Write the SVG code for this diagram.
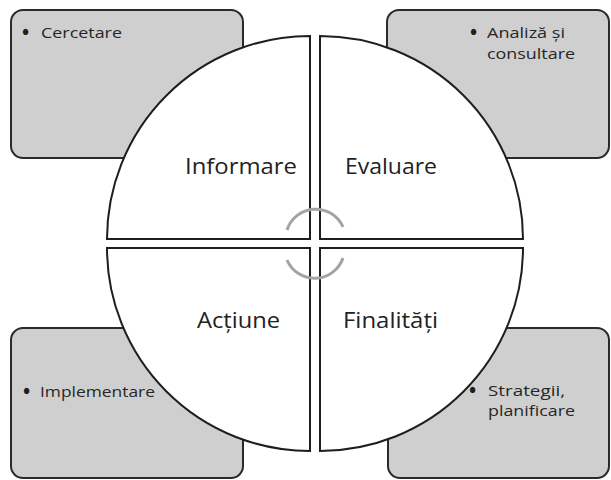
<svg xmlns="http://www.w3.org/2000/svg" width="611" height="480" viewBox="0 0 611 480">
<style>
.box{fill:#cfcfcf;stroke:#2a2a2a;stroke-width:2}
.quad{fill:#ffffff;stroke:#1e1e1e;stroke-width:2;stroke-linejoin:miter}
.sm{font-family:"Open Sans","Liberation Sans",sans-serif;font-size:15px;fill:#262626}
.bul{font-family:"Open Sans","Liberation Sans",sans-serif;font-size:19px;font-weight:bold;fill:#1e1e1e}
.big{font-family:"Open Sans","Liberation Sans",sans-serif;font-size:21px;fill:#222222}
.arc{fill:none;stroke:#a3a3a3;stroke-width:3;stroke-linecap:butt}
</style>
<rect width="611" height="480" fill="#ffffff"/>
<g id="box-cercetare">
<rect class="box" x="11" y="10" width="232" height="148" rx="12"/>
</g>
<g id="box-analiza">
<rect class="box" x="387" y="10" width="222" height="148" rx="12"/>
</g>
<g id="box-implementare">
<rect class="box" x="11" y="328" width="232" height="150" rx="12"/>
</g>
<g id="box-strategii">
<rect class="box" x="388" y="328" width="221" height="150" rx="12"/>
</g>
<g id="q-informare">
<path class="quad" d="M310,239 L107,239 A203,203 0 0 1 310,36 Z"/>
<text class="big" x="185" y="174" textLength="112" lengthAdjust="spacingAndGlyphs">Informare</text>
</g>
<g id="q-evaluare">
<path class="quad" d="M320,239 L320,36 A203,203 0 0 1 523,239 Z"/>
<text class="big" x="345" y="174" textLength="92" lengthAdjust="spacingAndGlyphs">Evaluare</text>
</g>
<g id="q-finalitati">
<path class="quad" d="M320,248 L523,248 A203,203 0 0 1 320,451 Z"/>
<text class="big" x="343" y="328" textLength="95" lengthAdjust="spacingAndGlyphs">Finalități</text>
</g>
<g id="q-actiune">
<path class="quad" d="M310,248 L310,451 A203,203 0 0 1 107,248 Z"/>
<text class="big" x="197" y="328" textLength="83" lengthAdjust="spacingAndGlyphs">Acțiune</text>
</g>
<g id="connectors">
<path class="arc" d="M287,230 A30,30 0 0 1 343,227"/>
<path class="arc" d="M287,260 A30,30 0 0 0 343,258"/>
</g>
<g id="label-cercetare">
<text class="bul" x="22" y="39">•</text>
<text class="sm" x="41" y="38" textLength="81" lengthAdjust="spacingAndGlyphs">Cercetare</text>
</g>
<g id="label-analiza">
<text class="bul" x="470" y="39">•</text>
<text class="sm" x="487" y="38" textLength="78" lengthAdjust="spacingAndGlyphs">Analiză și</text>
<text class="sm" x="487" y="59" textLength="88" lengthAdjust="spacingAndGlyphs">consultare</text>
</g>
<g id="label-implementare">
<text class="bul" x="23" y="398">•</text>
<text class="sm" x="40" y="397" textLength="115" lengthAdjust="spacingAndGlyphs">Implementare</text>
</g>
<g id="label-strategii">
<text class="bul" x="469" y="397">•</text>
<text class="sm" x="488" y="396" textLength="77" lengthAdjust="spacingAndGlyphs">Strategii,</text>
<text class="sm" x="488" y="416" textLength="87" lengthAdjust="spacingAndGlyphs">planificare</text>
</g>
</svg>
